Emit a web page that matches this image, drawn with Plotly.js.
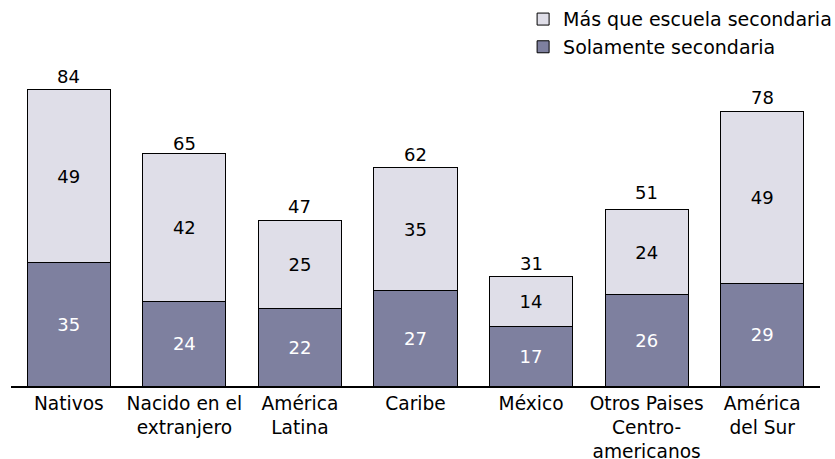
<!DOCTYPE html>
<html>
<head>
<meta charset="utf-8">
<script src="https://cdn.plot.ly/plotly-3.0.1.min.js"></script>
<style>html,body{margin:0;padding:0;background:#fff;}#chart{width:835px;height:459px;}</style>
</head>
<body>
<div id="chart"></div>
<script>
var categories = ["Nativos", "Nacido en el<br>extranjero", "América<br>Latina", "Caribe", "México", "Otros Paises<br>Centro-<br>americanos", "América<br>del Sur"];
var solamente = [35, 24, 22, 27, 17, 26, 29];
var masQue = [49, 42, 25, 35, 14, 24, 49];
var totals = [84, 65, 47, 62, 31, 51, 78];

var font = "DejaVu Sans, Verdana, sans-serif";

var traces = [
  {
    type: "bar", name: "Solamente secondaria", x: categories, y: solamente,
    text: solamente.map(String), textposition: "inside", insidetextanchor: "middle",
    textfont: {color: "#ffffff", size: 18, family: font},
    marker: {color: "#7e809f", line: {color: "#000000", width: 1}},
    hoverinfo: "none"
  },
  {
    type: "bar", name: "Más que escuela secondaria", x: categories, y: masQue,
    text: masQue.map(String), textposition: "inside", insidetextanchor: "middle",
    textfont: {color: "#000000", size: 18, family: font},
    marker: {color: "#dfdee8", line: {color: "#000000", width: 1}},
    hoverinfo: "none"
  }
];

var annotations = categories.map(function (c, i) {
  return {x: c, y: totals[i], text: String(totals[i]), showarrow: false,
    yanchor: "bottom", yshift: 1, font: {size: 18, family: font, color: "#000"}};
});

var layout = {
  width: 835, height: 459,
  margin: {l: 11, r: 15, t: 10, b: 73, autoexpand: false},
  paper_bgcolor: "#fff", plot_bgcolor: "#fff",
  barmode: "stack", bargap: 0.28,
  font: {family: font, size: 18, color: "#000"},
  showlegend: true,
  legend: {x: 0.633, xanchor: "left", y: 1.026, yanchor: "top",
    traceorder: "reversed", font: {size: 19, family: font}, bgcolor: "rgba(0,0,0,0)", tracegroupgap: 0},
  xaxis: {showline: true, linecolor: "#000", linewidth: 1.5, ticks: "", showgrid: false,
    tickfont: {size: 18.6, family: font}},
  yaxis: {range: [0, 106.7], visible: false, showgrid: false, zeroline: false},
  annotations: annotations
};

Plotly.newPlot("chart", traces, layout, {displayModeBar: false, staticPlot: true});
</script>
</body>
</html>
